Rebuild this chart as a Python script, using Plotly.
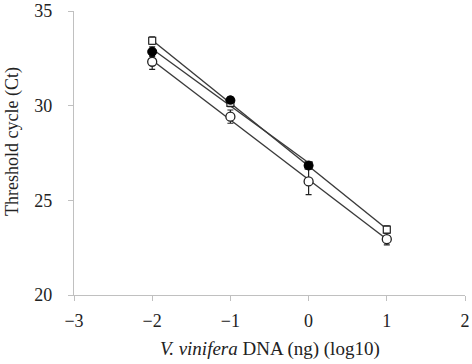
import numpy as np
import plotly.graph_objects as go

x_vals = [-2, -1, 0, 1]
ct_square = [33.43, 30.15, 26.85, 23.45]
ct_filled = [32.85, 30.28, 26.84]
x_filled = [-2, -1, 0]
ct_open = [32.32, 29.42, 26.0, 22.95]
err_open = [0.4, 0.35, 0.7, 0.3]
err_filled = [0.25, 0.2, 0.2]
err_square = [0.2, 0.2, 0.2, 0.2]

x_ticks = [-3, -2, -1, 0, 1, 2]
x_tick_text = ["\u22123", "\u22122", "\u22121", "0", "1", "2"]
y_ticks = [20, 25, 30, 35]

line_col = "#3a3a3a"
fig = go.Figure()

def trend(xs, ys):
    p = np.polyfit(xs, ys, 1)
    xx = [min(xs), max(xs)]
    return xx, [p[0] * v + p[1] for v in xx]

for xs, ys in [(x_vals, ct_square), (x_filled, ct_filled), (x_vals, ct_open)]:
    tx, ty = trend(xs, ys)
    fig.add_trace(go.Scatter(x=tx, y=ty, mode="lines",
                             line=dict(color=line_col, width=1.4),
                             showlegend=False, hoverinfo="skip"))

fig.add_trace(go.Scatter(x=x_vals, y=ct_open, mode="markers",
                         marker=dict(symbol="circle", size=9, color="white",
                                     line=dict(color="#222", width=1.3)),
                         error_y=dict(type="data", array=err_open, color="#222",
                                      thickness=1.2, width=3),
                         showlegend=False))
fig.add_trace(go.Scatter(x=x_filled, y=ct_filled, mode="markers",
                         marker=dict(symbol="circle", size=9, color="black",
                                     line=dict(color="black", width=1)),
                         error_y=dict(type="data", array=err_filled, color="#222",
                                      thickness=1.2, width=3),
                         showlegend=False))
fig.add_trace(go.Scatter(x=x_vals, y=ct_square, mode="markers",
                         marker=dict(symbol="square", size=7, color="white",
                                     line=dict(color="#222", width=1.2)),
                         error_y=dict(type="data", array=err_square, color="#222",
                                      thickness=1.2, width=3),
                         showlegend=False))
fig.add_trace(go.Scatter(x=x_filled[1:], y=ct_filled[1:], mode="markers",
                         marker=dict(symbol="circle", size=9, color="black"),
                         showlegend=False, hoverinfo="skip"))

font = dict(family="Liberation Serif, Times New Roman, serif", size=18, color="#222")
fig.update_layout(
    width=472, height=364,
    margin=dict(l=74, r=7, t=11, b=69),
    plot_bgcolor="white", paper_bgcolor="white",
    font=font,
    xaxis=dict(range=[-3, 2], tickvals=x_ticks, ticktext=x_tick_text,
               showgrid=False, zeroline=False, showline=True, automargin=False,
               linecolor="#c0c0c0", linewidth=1.3, ticks="outside",
               tickcolor="#c0c0c0", ticklen=5, ticklabelstandoff=4),
    yaxis=dict(range=[20, 35], tickvals=y_ticks,
               showgrid=False, zeroline=False, showline=True, automargin=False,
               linecolor="#c0c0c0", linewidth=1.3, ticks="outside",
               tickcolor="#c0c0c0", ticklen=5, ticklabelstandoff=12),
    annotations=[
        dict(text="<i>V. vinifera</i> DNA (ng) (log10)", xref="paper", yref="paper",
             x=0.5, y=-0.19, xanchor="center", yanchor="middle", showarrow=False,
             font=dict(size=19)),
        dict(text="Threshold cycle (Ct)", xref="paper", yref="paper",
             x=-0.159, y=0.542, xanchor="center", yanchor="middle", showarrow=False,
             textangle=-90, font=dict(size=18), borderpad=0),
    ],
)
fig.write_html("out.html", config={"displayModeBar": False},
               post_script="document.body.style.margin='0';document.body.style.padding='0';")
